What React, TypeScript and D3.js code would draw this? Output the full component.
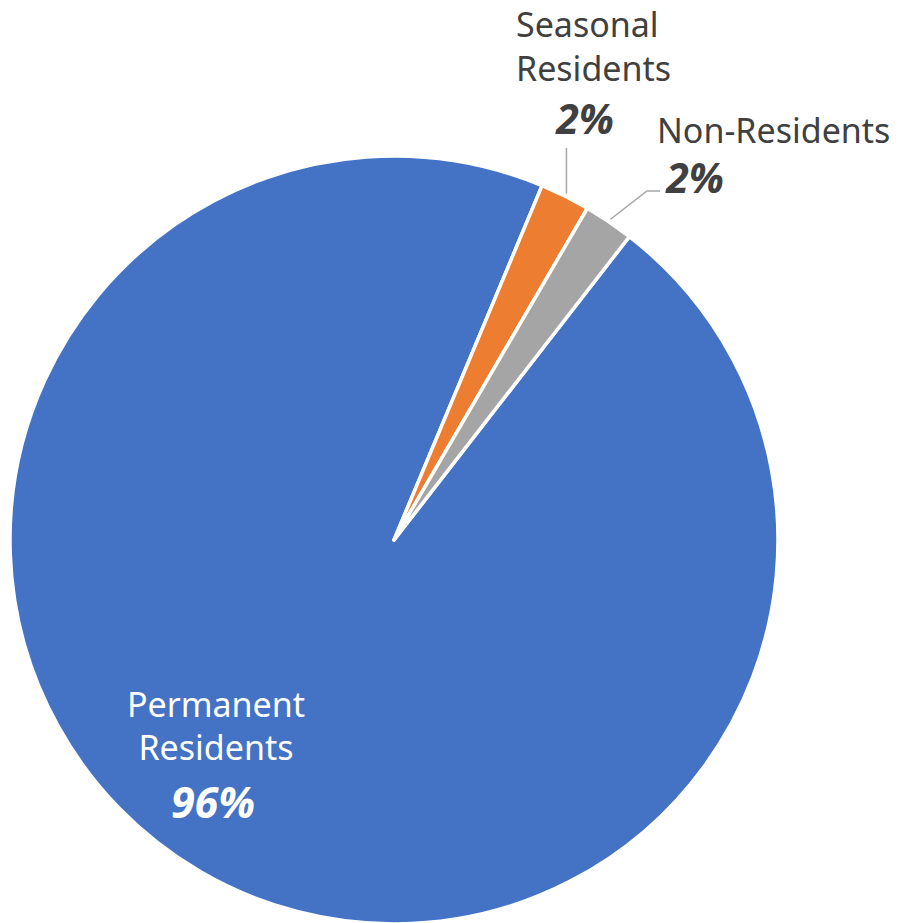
import React from "react";
import * as d3 from "d3";

const categories = ["Permanent Residents", "Seasonal Residents", "Non-Residents"];
const values = [95.8, 2.1, 2.1];
const colors = ["#4472C4", "#ED7D31", "#A5A5A5"];

const W = 903;
const H = 923;
const cx = 394;
const cy = 540;
const R = 384;
const startDeg = 37.8;

export default function App() {
  const pie = d3
    .pie<number>()
    .sort(null)
    .startAngle((startDeg * Math.PI) / 180)
    .endAngle((startDeg * Math.PI) / 180 + 2 * Math.PI);
  const arcs = pie(values);
  const arc = d3.arc<d3.PieArcDatum<number>>().innerRadius(0).outerRadius(R);
  const pct = (v: number) => `${Math.round(v)}%`;
  const font = "'Noto Sans', sans-serif";
  const dark = "#404040";

  const pt = (a: number, r: number) => [cx + r * Math.sin(a), cy - r * Math.cos(a)];
  const mid = (d: d3.PieArcDatum<number>) => (d.startAngle + d.endAngle) / 2;
  const sA = pt(mid(arcs[1]), R + 3);
  const nA = pt(mid(arcs[2]), R + 3);

  return (
    <svg width={W} height={H} style={{ position: "absolute", left: 0, top: 0 }}>
      <rect width={W} height={H} fill="#fff" />
      <g transform={`translate(${cx},${cy})`}>
        {arcs.map((d, i) => (
          <path key={categories[i]} d={arc(d) || ""} fill={colors[i]} stroke="#fff" strokeWidth={3.5} strokeLinejoin="round" />
        ))}
      </g>
      <polyline points={`${sA[0]},${sA[1]} ${sA[0]},148`} fill="none" stroke="#A6A6A6" strokeWidth={1.5} />
      <polyline points={`${nA[0]},${nA[1]} 647,191 660,191`} fill="none" stroke="#A6A6A6" strokeWidth={1.5} />

      <g fontFamily={font} fill={dark}>
        <text x={516} y={37} fontSize={34}>Seasonal</text>
        <text x={516} y={81} fontSize={34}>Residents</text>
        <text x={585} y={134} fontSize={41} fontWeight="bold" fontStyle="italic" textAnchor="middle">{pct(values[1])}</text>
        <text x={657} y={143} fontSize={34}>Non-Residents</text>
        <text x={695} y={193} fontSize={41} fontWeight="bold" fontStyle="italic" textAnchor="middle">{pct(values[2])}</text>
      </g>
      <g fontFamily={font} fill="#fff" textAnchor="middle">
        <text x={216} y={717} fontSize={34}>Permanent</text>
        <text x={216} y={760} fontSize={34}>Residents</text>
        <text x={213} y={818} fontSize={43} fontWeight="bold" fontStyle="italic">{pct(values[0])}</text>
      </g>
    </svg>
  );
}
